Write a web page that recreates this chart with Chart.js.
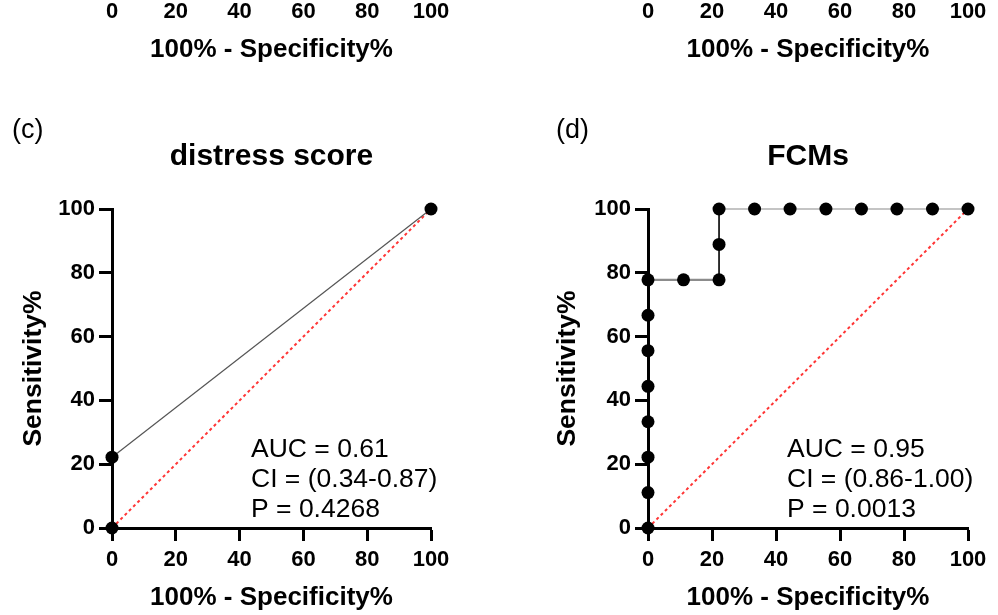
<!DOCTYPE html>
<html>
<head>
<meta charset="utf-8">
<script src="https://cdn.jsdelivr.net/npm/chart.js@4"></script>
<style>
  body { margin: 0; background: #fff; }
  #wrap { position: relative; width: 998px; height: 615px; overflow: hidden; background: #fff; }
  canvas { position: absolute; }
</style>
</head>
<body>
<div id="wrap">
  <canvas id="chartA" width="470" height="515" style="left:0;top:-448px"></canvas>
  <canvas id="chartB" width="463" height="515" style="left:535px;top:-448px"></canvas>
  <canvas id="chartC" width="470" height="515" style="left:0;top:100px"></canvas>
  <canvas id="chartD" width="463" height="515" style="left:535px;top:100px"></canvas>
</div>
<script>
// Axis / reference line
const tickStep = 20;
const chanceX = [0, 100];
const chanceY = [0, 100];

// (c) distress score
const distressX = [0, 0, 100];
const distressY = [0, 22.2, 100];
const distressStats = ['AUC = 0.61', 'CI = (0.34-0.87)', 'P = 0.4268'];

// (d) FCMs
const fcmX = [0, 0, 0, 0, 0, 0, 0, 0, 11.1, 22.2, 22.2, 22.2, 33.3, 44.4, 55.6, 66.7, 77.8, 88.9, 100];
const fcmY = [0, 11.1, 22.2, 33.3, 44.4, 55.6, 66.7, 77.8, 77.8, 77.8, 88.9, 100, 100, 100, 100, 100, 100, 100, 100];
const fcmStats = ['AUC = 0.95', 'CI = (0.86-1.00)', 'P = 0.0013'];

const FONT = '"Liberation Sans", Arial, sans-serif';

function toPoints(xs, ys) {
    return xs.map((x, i) => ({ x: x, y: ys[i] }));
}

// Colour each ROC segment the way the original plot does
function segColor(ctx) {
    const a = ctx.p0.parsed, b = ctx.p1.parsed;
    if (a.x === b.x) return '#000';
    if (a.y === b.y) return a.y === 100 ? '#c4c4c4' : '#8c8c8c';
    return '#555';
}
function segWidth(ctx) {
    const a = ctx.p0.parsed, b = ctx.p1.parsed;
    if (a.x === b.x) return 1.6;
    if (a.y === b.y) return 2.2;
    return 1.2;
}

// Panel letter, title and AUC text
const panelText = {
    id: 'panelText',
    afterDraw(chart, args, opts) {
        const { ctx, chartArea } = chart;
        ctx.save();
        ctx.fillStyle = '#000';
        ctx.textBaseline = 'alphabetic';
        if (opts.label) {
            ctx.font = '27px ' + FONT;
            ctx.textAlign = 'left';
            ctx.fillText(opts.label, opts.labelX, 38);
        }
        if (opts.title) {
            ctx.font = 'bold 30px ' + FONT;
            ctx.textAlign = 'center';
            ctx.fillText(opts.title, (chartArea.left + chartArea.right) / 2, 65);
        }
        if (opts.stats) {
            ctx.font = '26.5px ' + FONT;
            ctx.textAlign = 'left';
            opts.stats.forEach((line, i) => {
                ctx.fillText(line, opts.statsX, 357 + i * 30);
            });
        }
        ctx.restore();
    }
};

function makeChart(id, rocX, rocY, yWidth, padRight, yTitlePad, text) {
    const datasets = [];
    if (rocX) {
        datasets.push({
            data: toPoints(rocX, rocY),
            showLine: true,
            borderColor: '#555',
            borderWidth: 1.5,
            pointRadius: 6.5,
            pointBackgroundColor: '#000',
            pointBorderColor: '#000',
            pointBorderWidth: 0,
            clip: false,
            segment: { borderColor: segColor, borderWidth: segWidth }
        });
    }
    datasets.push({
        data: toPoints(chanceX, chanceY),
        showLine: true,
        borderColor: '#ff3535',
        borderWidth: 2,
        borderDash: [3, 3],
        pointRadius: 0,
        clip: false
    });

    return new Chart(document.getElementById(id), {
        type: 'scatter',
        data: { datasets: datasets },
        options: {
            responsive: false,
            animation: false,
            layout: { padding: { left: 0, right: padRight, top: 109, bottom: 0 } },
            plugins: {
                legend: { display: false },
                tooltip: { enabled: false },
                panelText: text
            },
            scales: {
                x: {
                    type: 'linear', min: 0, max: 100,
                    ticks: { stepSize: tickStep, padding: 6, color: '#000', font: { family: FONT, size: 22, weight: 'bold' } },
                    grid: { drawOnChartArea: false, tickLength: 13, tickWidth: 3, tickColor: '#000' },
                    border: { color: '#000', width: 3 },
                    title: { display: true, text: '100% - Specificity%', color: '#000', font: { family: FONT, size: 26, weight: 'bold' }, padding: { top: 0, bottom: 2 } },
                    afterFit(s) { s.height = 87; }
                },
                y: {
                    type: 'linear', min: 0, max: 100,
                    ticks: { stepSize: tickStep, padding: 4, color: '#000', font: { family: FONT, size: 22, weight: 'bold' } },
                    grid: { drawOnChartArea: false, tickLength: 13, tickWidth: 3, tickColor: '#000' },
                    border: { color: '#000', width: 3 },
                    title: { display: true, text: 'Sensitivity%', color: '#000', font: { family: FONT, size: 26.5, weight: 'bold' }, padding: { top: yTitlePad, bottom: 0 } },
                    afterFit(s) { s.width = yWidth; }
                }
            }
        },
        plugins: [panelText]
    });
}

// (a) and (b) only show their x axes at the top edge
makeChart('chartA', null, null, 112, 39, 18, {});
makeChart('chartB', null, null, 113, 30, 17, {});
makeChart('chartC', distressX, distressY, 112, 39, 18,
    { label: '(c)', labelX: 12, title: 'distress score', stats: distressStats, statsX: 251 });
makeChart('chartD', fcmX, fcmY, 113, 30, 17,
    { label: '(d)', labelX: 21, title: 'FCMs', stats: fcmStats, statsX: 252 });
</script>
</body>
</html>
